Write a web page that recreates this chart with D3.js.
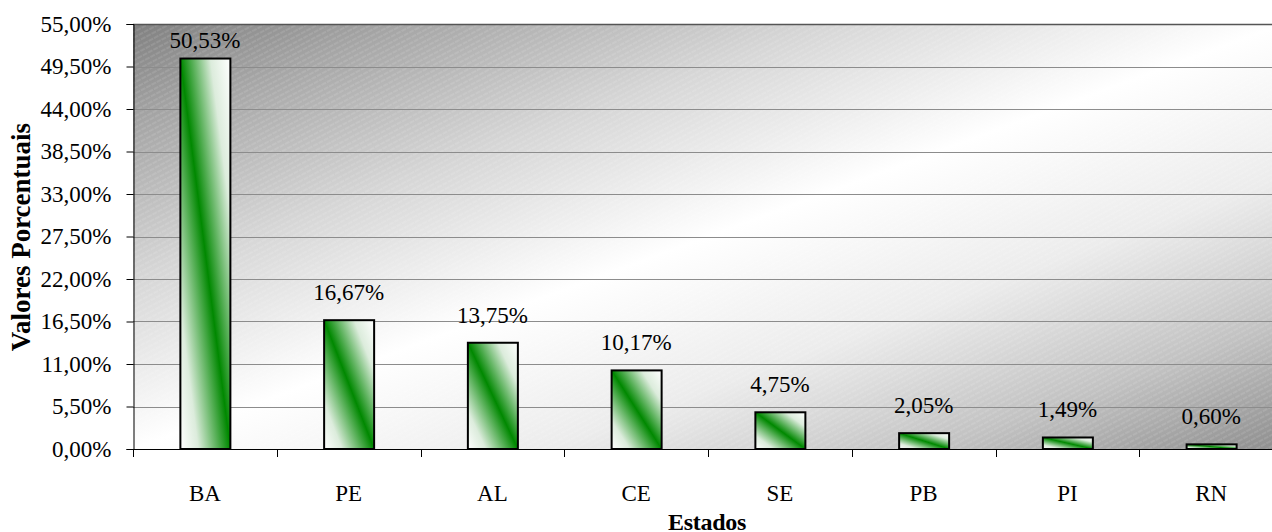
<!DOCTYPE html>
<html><head><meta charset="utf-8">
<script src="https://cdn.jsdelivr.net/npm/d3@7"></script>
<style>
html,body{margin:0;padding:0;background:#fff;overflow:hidden}
svg text{font-family:"Liberation Serif","Times New Roman",Times,"DejaVu Serif",serif;fill:#000}
</style>
</head><body><svg id="c" width="1272" height="532"></svg>
<script>
const categories = ["BA","PE","AL","CE","SE","PB","PI","RN"];
const values = [50.53,16.67,13.75,10.17,4.75,2.05,1.49,0.60];
const yTicks = [0,5.5,11,16.5,22,27.5,33,38.5,44,49.5,55];
const fmt = v => v.toFixed(2).replace(".", ",") + "%";

const svg = d3.select("#c");
const m = {left:133, top:24, right:1283, bottom:449};
const x = d3.scaleBand().domain(categories).range([m.left, m.right]).paddingInner(0).paddingOuter(0);
const y = d3.scaleLinear().domain([0,55]).range([m.bottom, m.top]);

const defs = svg.append("defs");
const bg = defs.append("linearGradient").attr("id","bg").attr("x1",0).attr("y1",0).attr("x2",1).attr("y2",1);
[[0,"#808080"],[0.12,"#a6a6a6"],[0.3,"#d6d6d6"],[0.5,"#ffffff"],[0.68,"#ececec"],[0.85,"#c2c2c2"],[1,"#8e8e8e"]]
  .forEach(s=>bg.append("stop").attr("offset",s[0]).attr("stop-color",s[1]));

const hatch = defs.append("pattern").attr("id","hatch").attr("patternUnits","userSpaceOnUse")
  .attr("width",6).attr("height",5).attr("patternTransform","rotate(-28)");
hatch.append("line").attr("x1",0).attr("y1",1).attr("x2",6).attr("y2",1)
  .attr("stroke","#fff").attr("stroke-opacity",0.2).attr("stroke-width",1).attr("stroke-dasharray","3,1");

const bar = defs.append("linearGradient").attr("id","bar").attr("x1",0).attr("y1",1).attr("x2",1).attr("y2",0);
[[0,"#ffffff"],[0.18,"#dcecdc"],[0.5,"#008800"],[0.8,"#dcecdc"],[1,"#ffffff"]]
  .forEach(s=>bar.append("stop").attr("offset",s[0]).attr("stop-color",s[1]));

svg.append("rect").attr("x",m.left).attr("y",m.top).attr("width",m.right-m.left).attr("height",m.bottom-m.top).attr("fill","url(#bg)");
svg.append("rect").attr("x",m.left).attr("y",m.top).attr("width",m.right-m.left).attr("height",m.bottom-m.top).attr("fill","url(#hatch)");

// gridlines
svg.append("g").selectAll("line").data(yTicks.slice(1)).join("line")
  .attr("x1",m.left).attr("x2",m.right).attr("y1",d=>Math.round(y(d))+0.5).attr("y2",d=>Math.round(y(d))+0.5)
  .attr("stroke",d=>d===55?"#555":"#8c8c8c").attr("stroke-width",d=>d===55?1.5:1);

// bars
const bw = 50;
svg.append("g").selectAll("rect").data(values).join("rect")
  .attr("x",(d,i)=>x(categories[i])+x.bandwidth()/2-bw/2+0.5)
  .attr("y",d=>y(d))
  .attr("width",bw).attr("height",d=>m.bottom-y(d))
  .attr("fill","url(#bar)").attr("stroke","#000").attr("stroke-width",2);

// labels
svg.append("g").selectAll("text").data(values).join("text")
  .attr("x",(d,i)=>x(categories[i])+x.bandwidth()/2)
  .attr("y",d=>Math.max(y(d)-20,48))
  .attr("text-anchor","middle").attr("font-size",23)
  .text(fmt);

// y axis
const ya = svg.append("g").attr("transform",`translate(${m.left+0.5},0)`)
  .call(d3.axisLeft(y).tickValues(yTicks).tickFormat(fmt).tickSize(7).tickPadding(15));
ya.attr("font-family",null);
ya.select(".domain").attr("stroke","#000");
ya.selectAll(".tick line").attr("stroke","#000");
ya.selectAll("text").attr("font-size",23).attr("fill","#000");

// x axis
const xa = svg.append("g").attr("transform",`translate(0,${m.bottom+0.5})`)
  .call(d3.axisBottom(x).tickSize(0).tickPadding(35));
xa.attr("font-family",null);
xa.select(".domain").attr("stroke","#000").attr("d",`M${m.left},0H${m.right}`);
xa.selectAll("text").attr("font-size",23).attr("fill","#000");
svg.append("g").selectAll("line").data(categories).join("line")
  .attr("x1",d=>Math.round(x(d))+0.5).attr("x2",d=>Math.round(x(d))+0.5)
  .attr("y1",m.bottom).attr("y2",m.bottom+8).attr("stroke","#000");

// titles
svg.append("text").attr("x",707).attr("y",530).attr("text-anchor","middle")
  .attr("font-weight","bold").attr("font-size",24).attr("letter-spacing",-0.3).text("Estados");
svg.append("text").attr("transform",`translate(30,237) rotate(-90)`).attr("text-anchor","middle")
  .attr("font-weight","bold").attr("font-size",27).text("Valores Porcentuais");
</script></body></html>
